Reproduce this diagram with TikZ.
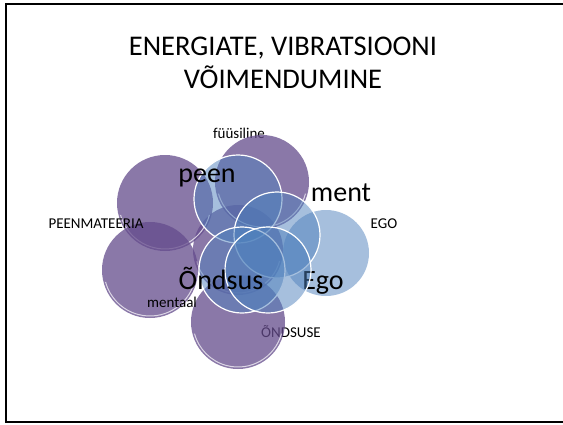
\documentclass[tikz,border=0pt]{standalone}
\usepackage{fontspec}
\setmainfont{Carlito}
\definecolor{purp}{RGB}{100,75,140}
\definecolor{blu}{RGB}{79,129,189}

\begin{document}
\begin{tikzpicture}[x=1pt, y=-1pt,
  ball/.style={circle, minimum size=#1pt, inner sep=0pt, fill=purp, fill opacity=0.75,
    path picture={\draw[white, draw opacity=0.7, line width=1pt]
      (path picture bounding box.center) ++(15:#1/2-2) arc (15:165:#1/2-2);}},
  lightball/.style={circle, minimum size=#1pt, inner sep=0pt, fill=blu, fill opacity=0.5},
  ring/.style={circle, minimum size=#1pt, inner sep=0pt, fill=blu, fill opacity=0.5, draw=white, line width=1.2pt},
  big/.style={font=\fontsize{28}{30}\selectfont, anchor=base, inner sep=0pt},
  small/.style={font=\fontsize{15}{17}\selectfont, anchor=base, inner sep=0pt}]
\useasboundingbox[fill=white] (0,0) rectangle (563,424);
\draw[line width=2pt] (566,4) -- (6,4) -- (6,422) -- (566,422); % slide frame
\node[font=\fontsize{28.5}{33}\selectfont, align=center, anchor=base] (title) at (283,88) {ENERGIATE, VIBRATSIOONI\\VÕIMENDUMINE}; % title
\node[small] (lFys) at (239,138) {füüsiline};
\node[small] (lOnds) at (291,337) {ÕNDSUSE};
\node[ball=90] (cMid) at (238,250) {}; % purple circles
\node[ball=94] (cFys) at (262,182) {};
\node[ball=96] (cPeenm) at (165,203) {};
\node[ball=96] (cMent) at (150,270) {};
\node[ball=94] (cOnds) at (238,322) {};
\node[lightball=86] (cEgo) at (326,253) {}; % light blue circle
\node[big] (lEgo) at (323,289) {Ego};
\node[ring=88] (rPeen) at (238,199) {}; % white rings
\node[ring=86] (rMent) at (277,235) {};
\node[ring=86] (rOnds) at (242,270) {};
\node[ring=86] (rEgo) at (268,270) {};
\node[big] (lPeen) at (207,182) {peen}; % labels
\node[big] (lMent) at (341,201) {ment};
\node[big] (lOndsus) at (221,289) {Õndsus};
\node[small] (lPeenm) at (96,228) {PEENMATEERIA};
\node[small] (lEGO) at (384,228) {EGO};
\node[small] (lMentaal) at (172,307) {mentaal};
\end{tikzpicture}
\end{document}
